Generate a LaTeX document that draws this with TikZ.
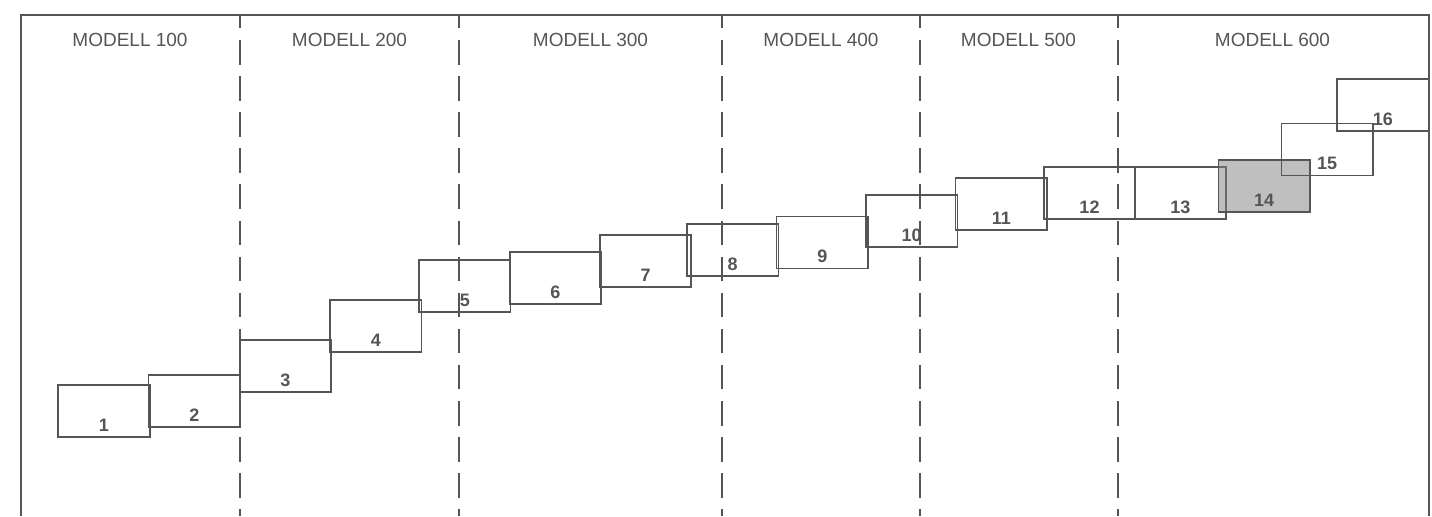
\documentclass[tikz,border=0pt]{standalone}
\usepackage{fontspec}
\setmainfont{Liberation Sans}
\definecolor{linegray}{HTML}{555555}

\begin{document}
\begin{tikzpicture}[x=0.5pt,y=-0.5pt]
\tikzstyle{frame}=[draw=linegray, line width=0.9pt]
\tikzstyle{divider}=[draw=linegray,
                     line width=0.9pt,
                     dash pattern=on 12.25pt off 5.8pt,
                     dash phase=5.55pt]
\tikzstyle{modell}=[text=linegray, inner sep=0pt, font=\fontsize{9.5}{11}\selectfont]
\tikzstyle{box}=[rectangle, draw=linegray, line width=0.9pt,
                 minimum width=45.75pt, minimum height=26pt,
                 inner sep=0pt, outer sep=0pt,
                 text height=20.44pt, text depth=0pt, text=linegray,
                 font=\fontsize{9}{10}\selectfont\bfseries]
\tikzstyle{marked}=[fill=black!50, fill opacity=0.5, text opacity=1]
\useasboundingbox (0,0) rectangle (1432,516);

% frame and model borders
\draw[frame] (20.7,516) -- (20.7,15) -- (1429,15) -- (1429,516);
\draw[divider] (240,15) -- (240,516);
\draw[divider] (459,15) -- (459,516);
\draw[divider] (722.3,15) -- (722.3,516);
\draw[divider] (920,15) -- (920,516);
\draw[divider] (1117.7,15) -- (1117.7,516);

\node[modell] (M100) at (130,40) {MODELL 100};
\node[modell] (M200) at (349.5,40) {MODELL 200};
\node[modell] (M300) at (590.5,40) {MODELL 300};
\node[modell] (M400) at (821,40) {MODELL 400};
\node[modell] (M500) at (1018.5,40) {MODELL 500};
\node[modell] (M600) at (1272.5,40) {MODELL 600};

% staircase
\node[box] (B1) at (104,411) {1};
\node[box] (B2) at (194.3,401.2) {2};
\node[box] (B3) at (285.5,366.3) {3};
\node[box] (B4) at (375.8,326.2) {4};
\node[box] (B5) at (464.8,285.8) {5};
\node[box] (B6) at (555.5,278.3) {6};
\node[box] (B7) at (645.6,261) {7};
\node[box] (B8) at (732.7,249.7) {8};
\node[box] (B9) at (822.3,242.5) {9};
\node[box] (B10) at (911.7,220.7) {10};
\node[box] (B11) at (1001.3,203.8) {11};
\node[box] (B12) at (1089.5,193.2) {12};
\node[box] (B13) at (1180.3,193.2) {13};
\node[box,marked] (B14) at (1264.2,185.7) {14};
\node[box] (B15) at (1327.2,149.5) {15};
\node[box] (B16) at (1382.8,104.8) {16};

\end{tikzpicture}
\end{document}
